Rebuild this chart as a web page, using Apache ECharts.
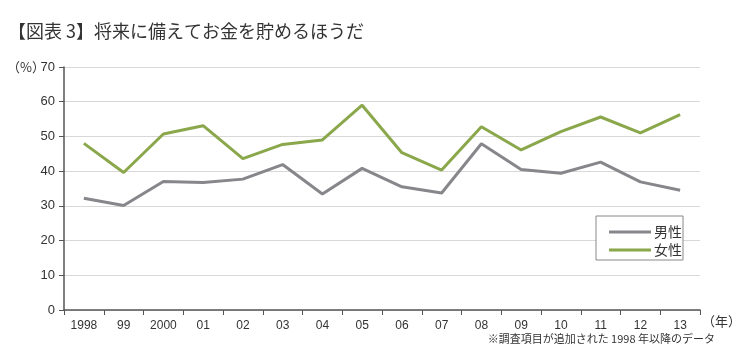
<!DOCTYPE html>
<html><head><meta charset="utf-8">
<script src="https://cdn.jsdelivr.net/npm/echarts@6/dist/echarts.min.js"></script>
<style>html,body{margin:0;padding:0;background:#fff}#c{width:750px;height:363px}</style>
</head><body><div id="c"></div>
<script>
const categories = ['1998','99','2000','01','02','03','04','05','06','07','08','09','10','11','12','13'];
const maleValues = [32.2,30.1,37.0,36.7,37.7,41.9,33.4,40.8,35.5,33.7,47.9,40.5,39.4,42.6,36.9,34.5];
const femaleValues = [48.0,39.6,50.7,53.1,43.6,47.7,49.0,59.0,45.3,40.3,52.8,46.1,51.4,55.6,51.0,56.3];
const seriesNames = ['男性','女性'];
const yTicks = [0,10,20,30,40,50,60,70];

const font = '"Noto Sans CJK JP", "Liberation Sans", sans-serif';
const chart = echarts.init(document.getElementById('c'), null, {renderer:'canvas'});
chart.setOption({
  animation:false,
  backgroundColor:'#fff',
  title:{text:'【図表 3】将来に備えてお金を貯めるほうだ', left:3, top:17,
    textStyle:{fontFamily:font, fontSize:18, fontWeight:'normal', color:'#333'}},
  graphic:[
    {type:'text', left:7, top:61, style:{text:'（%）', fontFamily:font, fontSize:13, fill:'#333'}},
    {type:'text', left:702, top:315, style:{text:'（年）', fontFamily:font, fontSize:13, fill:'#333'}},
    {type:'text', right:35, top:333, style:{text:'※調査項目が追加された 1998 年以降のデータ', fontFamily:font, fontSize:11, fill:'#333'}},
    {type:'rect', shape:{x:596, y:216, width:87, height:44}, style:{fill:'#fff', stroke:'#888', lineWidth:1}, z:10}
  ],
  legend:{orient:'vertical', left:604, top:220, itemWidth:42, itemHeight:3, itemGap:4, z:20,
    icon:'rect',
    textStyle:{fontFamily:font, fontSize:14, color:'#333', padding:[0,0,0,-2]},
    data:seriesNames},
  grid:{left:64, right:50, top:67, bottom:53},
  xAxis:{type:'category', data:categories, boundaryGap:true,
    axisLine:{lineStyle:{color:'#555', width:1.5}},
    axisTick:{show:true, length:5, lineStyle:{color:'#555'}},
    axisLabel:{fontFamily:'"Liberation Sans", sans-serif', fontSize:12, color:'#333', margin:10}},
  yAxis:{type:'value', min:0, max:70, interval:10,
    axisLine:{show:true, lineStyle:{color:'#555', width:1.5}},
    axisTick:{show:true, length:5, lineStyle:{color:'#555'}},
    axisLabel:{fontFamily:'"Liberation Sans", sans-serif', fontSize:13, color:'#333', margin:9,
      formatter:v=>yTicks.includes(v)?String(v):''},
    splitLine:{lineStyle:{color:'#d8d8d8', width:1}}},
  series:[
    {name:seriesNames[0], type:'line', data:maleValues, symbol:'none', color:'#87878b',
      lineStyle:{width:3, color:'#87878b'}},
    {name:seriesNames[1], type:'line', data:femaleValues, symbol:'none', color:'#8aa84b',
      lineStyle:{width:3, color:'#8aa84b'}}
  ]
});
</script></body></html>
